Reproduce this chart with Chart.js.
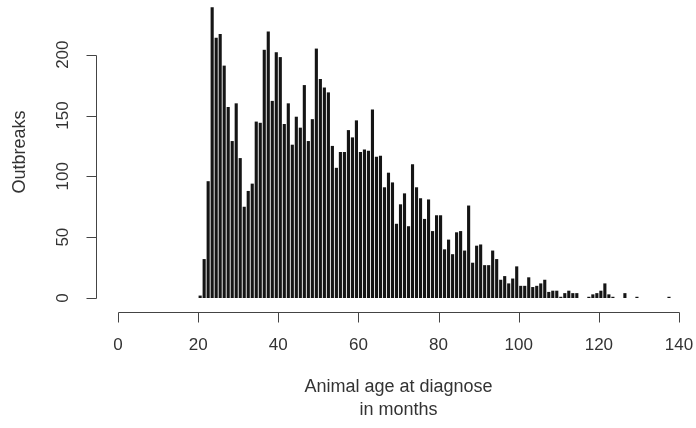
<!DOCTYPE html>
<html>
<head>
<meta charset="utf-8">
<script src="https://cdn.jsdelivr.net/npm/chart.js@4/dist/chart.umd.min.js"></script>
<style>
html,body{margin:0;padding:0;background:#fff}
#wrap{width:696px;height:428px}
</style>
</head>
<body>
<div id="wrap"><canvas id="hist" width="696" height="428"></canvas></div>
<script>
// month bins (age at diagnose, months)
const months = [20,21,22,23,24,25,26,27,28,29,30,31,32,33,34,35,36,37,38,39,
40,41,42,43,44,45,46,47,48,49,50,51,52,53,54,55,56,57,58,59,
60,61,62,63,64,65,66,67,68,69,70,71,72,73,74,75,76,77,78,79,
80,81,82,83,84,85,86,87,88,89,90,91,92,93,94,95,96,97,98,99,
100,101,102,103,104,105,106,107,108,109,110,111,112,113,114,115,116,117,118,119,
120,121,122,123,124,125,126,127,128,129,130,131,132,133,134,135,136,137]

// outbreaks per month
const outbreaks = [2,32,96,239,214,217,191,157,129,160,115,75,88,94,145,144,204,219,162,202,
198,143,160,126,149,140,175,129,147,205,180,173,169,125,107,120,120,138,132,146,
120,122,121,155,116,117,91,103,95,61,77,86,59,110,91,82,65,81,55,68,
68,40,48,36,54,55,39,76,29,43,44,27,27,39,32,15,18,12,16,26,
10,10,17,9,10,12,15,5,6,6,1,4,6,4,4,0,0,1,3,4,
6,12,3,1,0,0,4,0,0,1,0,0,0,0,0,0,0,1]

const xTicks = [0,20,40,60,80,100,120,140]
const yTicks = [0,50,100,150,200]

const xTitle = ["Animal age at diagnose","in months"]
const yTitle = "Outbreaks"

const tickFont = "17px 'Liberation Sans', Arial, sans-serif"
const titleFont = "18px 'Liberation Sans', Arial, sans-serif"

// R style axes drawn from the chart's own scales
const rAxes = {
id:"rAxes",
afterDraw(chart){
const c = chart.ctx
const xs = chart.scales.x
const ys = chart.scales.y
const area = chart.chartArea

c.save()
c.strokeStyle = "#444"
c.lineWidth = 1
c.fillStyle = "#333"
c.font = tickFont

// x axis
let axY = 312.5
let x0 = Math.round(xs.getPixelForValue(xTicks[0])) + 0.5
let x1 = Math.round(xs.getPixelForValue(xTicks[xTicks.length-1])) + 0.5
c.beginPath()
c.moveTo(x0,axY)
c.lineTo(x1,axY)
xTicks.forEach(function(t){
let px = Math.round(xs.getPixelForValue(t)) + 0.5
c.moveTo(px,axY)
c.lineTo(px,axY+10)
})
c.stroke()

c.textAlign = "center"
c.textBaseline = "middle"
xTicks.forEach(function(t){
c.fillText(String(t), xs.getPixelForValue(t), 345)
})

// y axis
let axX = 96.5
let y0 = Math.round(ys.getPixelForValue(yTicks[0])) + 0.5
let y1 = Math.round(ys.getPixelForValue(yTicks[yTicks.length-1])) + 0.5
c.beginPath()
c.moveTo(axX,y0)
c.lineTo(axX,y1)
yTicks.forEach(function(t){
let py = Math.round(ys.getPixelForValue(t)) + 0.5
c.moveTo(axX,py)
c.lineTo(axX-10,py)
})
c.stroke()

yTicks.forEach(function(t){
c.save()
c.translate(63, ys.getPixelForValue(t))
c.rotate(-Math.PI/2)
c.fillText(String(t),0,0)
c.restore()
})

// titles
c.font = titleFont
let midX = (area.left + area.right) / 2
c.fillText(xTitle[0], midX, 387)
c.fillText(xTitle[1], midX, 410)

c.save()
c.translate(20, (area.top + area.bottom) / 2)
c.rotate(-Math.PI/2)
c.fillText(yTitle,0,0)
c.restore()

c.restore()
}
}

const points = months.map(function(m,i){
return {x:m+0.5, y:outbreaks[i]}
})

new Chart(document.getElementById("hist"),{
type:"bar",
data:{
datasets:[{
label:"Outbreaks",
data:points,
backgroundColor:"#151515",
borderWidth:0,
categoryPercentage:1,
barPercentage:0.78
}]
},
options:{
responsive:false,
animation:false,
layout:{padding:{left:118,right:17,top:6,bottom:130}},
plugins:{legend:{display:false},tooltip:{enabled:false}},
scales:{
x:{type:"linear",min:0,max:140,offset:false,display:false},
y:{min:0,max:240,display:false}
}
},
plugins:[rAxes]
})
</script>
</body>
</html>
